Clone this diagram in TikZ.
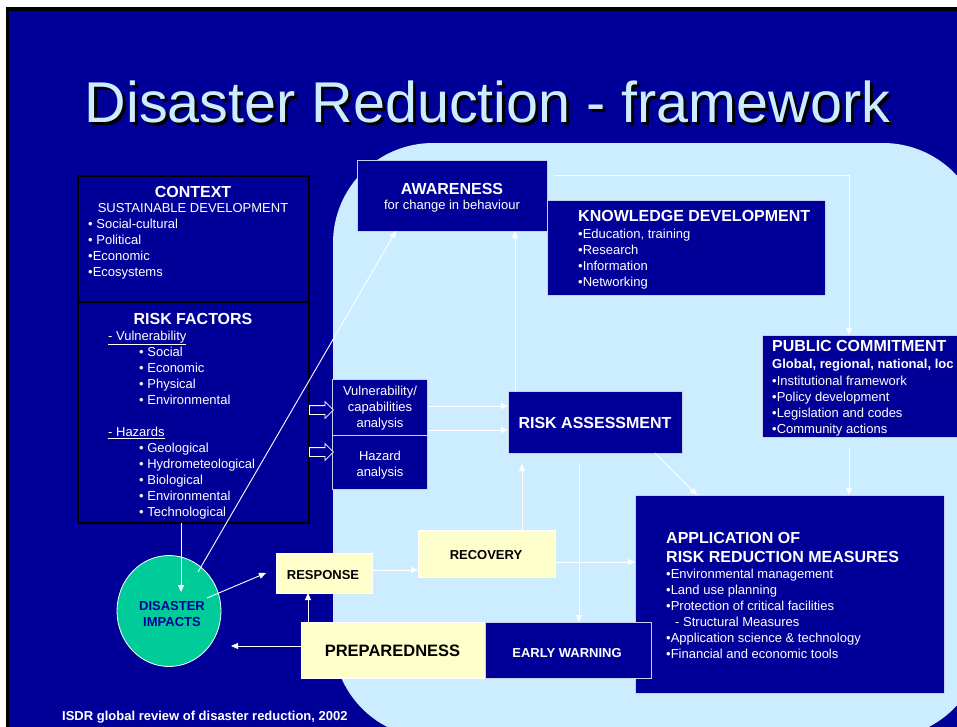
\documentclass[tikz,border=0pt]{standalone}
\usepackage{fontspec}
\setmainfont{Liberation Sans}
\usetikzlibrary{shapes.geometric,shapes.arrows,arrows.meta,calc}
\definecolor{bgblue}{HTML}{000099}
\definecolor{lightbg}{HTML}{CCECFF}
\definecolor{paleyel}{HTML}{FFFFCC}
\definecolor{tealc}{HTML}{00CC99}
\definecolor{titlec}{HTML}{CCECFF}
\definecolor{edgec}{HTML}{C8D0F0}
\newcommand\mkbox[6]{\node[#1, minimum width={#5-#3}, minimum height={#6-#4}, anchor=north west] (#2) at (#3,#4) {};}
\newcommand\itemlist[5]{\foreach \t [count=\i from 0] in {#5} {\node[anchor=base west, #2] (#1-\i) at (#3, {#4+16*\i}) {\t};}}
\newcommand\shadowtext[1]{\makebox[0pt][l]{\hspace*{3pt}\raisebox{-3pt}{\color{black}#1}}{\color{titlec}#1}}
\tikzset{
  blubox/.style={draw=edgec, fill=bgblue, line width=0.8pt, inner sep=0pt, outer sep=0pt},
  blkbox/.style={draw=black, fill=bgblue, line width=1.2pt, inner sep=0pt, outer sep=0pt},
  yelbox/.style={draw=white, fill=paleyel, line width=0.8pt, inner sep=0pt, outer sep=0pt},
  conn/.style={draw=white, line width=0.9pt, -{Triangle[length=7pt,width=6pt]}},
  hd/.style={font=\fontsize{16}{19}\selectfont\bfseries, text=white, inner sep=0pt},
  tx/.style={font=\fontsize{13}{16}\selectfont, text=white, inner sep=0pt},
  bx/.style={font=\fontsize{13}{16}\selectfont\bfseries, text=white, inner sep=0pt},
  dk/.style={font=\fontsize{13}{16}\selectfont\bfseries, text=black, inner sep=0pt},
  harrow/.style={single arrow, draw=white, fill=bgblue, line width=0.8pt, inner sep=4pt,
    single arrow head extend=4pt, minimum height=24pt, anchor=tail},
}
\begin{document}
\begin{tikzpicture}[x=1pt,y=-1pt]
\useasboundingbox (0,0) rectangle (957,726);
\fill[white] (0,0) rectangle (957,726);
\fill[black] (6,7.3) rectangle (970,740);
\fill[bgblue] (9,10.7) rectangle (970,740);
\fill[lightbg, rounded corners=100pt] (333,143) rectangle (983,738);

% title (with drop shadow in the same node)
\node[font=\fontsize{57.5}{60}\selectfont, inner sep=0pt, anchor=base] (title) at (487.5,122) {\shadowtext{Disaster Reduction - framework}};

% boxes
\mkbox{blkbox}{ctx}{78}{176}{309}{302}
\mkbox{blkbox}{rf}{78}{302}{309}{523}
\mkbox{blubox}{aw}{357}{160}{547}{231}
\mkbox{blubox}{kd}{547}{200}{825}{295}
\mkbox{blubox}{pc}{762}{335}{970}{437}
\mkbox{blubox}{vu}{332}{379}{427}{435}
\mkbox{blubox}{hz}{332}{435}{427}{489}
\mkbox{blubox}{ra}{508}{391}{682}{453}
\mkbox{blubox}{app}{635}{495}{944}{693}
\mkbox{yelbox}{rec}{418}{530}{555}{577}
\mkbox{yelbox}{resp}{276}{553}{372}{593}
\mkbox{yelbox}{prep}{301}{622}{485}{678}
\mkbox{blubox}{ew}{485}{622}{651}{678}
\node[ellipse, draw=white, fill=tealc, line width=0.8pt, minimum width=104pt, minimum height=111pt, inner sep=0pt] (di) at (169,611) {};

\node[harrow] (h1) at ($(rf.north east)+(0,108)$) {};
\node[harrow] (h2) at ($(rf.north east)+(0,150)$) {};

% texts
\node[hd, anchor=base] (t-ctx) at (193,197) {CONTEXT};
\node[tx, anchor=base] (t-sd) at (193,212.5) {SUSTAINABLE DEVELOPMENT};
\itemlist{lc}{tx}{88}{228.5}{{• Social-cultural},{• Political},{•Economic},{•Ecosystems}}
\node[hd, anchor=base] (t-rf) at (193,324) {RISK FACTORS};
\node[tx, anchor=base west] (t-vul) at (108,340.5) {\underline{- Vulnerability}};
\itemlist{lv}{tx}{139}{356.5}{{• Social},{• Economic},{• Physical},{• Environmental}}
\node[tx, anchor=base west] (t-haz) at (108,436.5) {\underline{- Hazards}};
\itemlist{lh}{tx}{139}{452.5}{{• Geological},{• Hydrometeological},{• Biological},{• Environmental},{• Technological}}

\node[hd, anchor=base] (t-aw) at (452,194) {AWARENESS};
\node[tx, anchor=base] (t-aw2) at (452,209.5) {for change in behaviour};

\node[hd, anchor=base west] (t-kd) at (578,221) {KNOWLEDGE DEVELOPMENT};
\itemlist{lk}{tx}{578}{238}{{•Education, training},{•Research},{•Information},{•Networking}}

\node[hd, anchor=base west] (t-pc) at (772,351.5) {PUBLIC COMMITMENT};
\node[bx, anchor=base west] (t-pc2) at (772,368.5) {Global, regional, national, loc};
\itemlist{lp}{tx}{772}{385}{{•Institutional framework},{•Policy development},{•Legislation and codes},{•Community actions}}

\itemlist{lu}{tx, anchor=base}{380}{395.5}{{Vulnerability/},{capabilities},{analysis}}
\itemlist{lz}{tx, anchor=base}{380}{460.5}{{Hazard},{analysis}}

\node[hd, anchor=base] (t-ra) at (595,428) {RISK ASSESSMENT};

\node[hd, anchor=base west] (t-app) at (666,543) {APPLICATION OF};
\node[hd, anchor=base west] (t-app2) at (666,562) {RISK REDUCTION MEASURES};
\itemlist{la}{tx}{666}{578.5}{{•Environmental management},{•Land use planning},{•Protection of critical facilities},{\hspace*{9pt}- Structural Measures},{•Application science \& technology},{•Financial and economic tools}}

\node[dk, anchor=base] (t-rec) at (486,559) {RECOVERY};
\node[dk, anchor=base] (t-resp) at (323,579) {RESPONSE};
\node[dk, font=\fontsize{16.5}{19}\selectfont\bfseries, anchor=base] (t-prep) at (392.5,656.5) {PREPAREDNESS};
\node[bx, anchor=base] (t-ew) at (567,657) {EARLY WARNING};
\node[bx, text=bgblue, anchor=base] (t-di1) at (172,610) {DISASTER};
\node[bx, text=bgblue, anchor=base] (t-di2) at (172,626.5) {IMPACTS};

\node[bx, anchor=base west] (t-foot) at (62,720.5) {ISDR global review of disaster reduction, 2002};

% connectors
\coordinate (c1s) at ($(aw.north east)+(8,15)$);
\coordinate (c1e) at ($(pc.north west)+(87,0)$);
\draw[conn] (c1s) -| (c1e);
\coordinate (c2s) at ($(pc.south west)+(87,11)$);
\draw[conn] (c2s) -- (c2s |- app.north);
\coordinate (c3s) at ($(ra.north west)+(7,0)$);
\draw[conn] (c3s) -- (c3s |- aw.south);
\coordinate (c4s) at ($(di.center)+(29,-39)$);
\coordinate (c4e) at ($(aw.south west)+(39,0)$);
\draw[conn] (c4s) -- (c4e);
\coordinate (c5a) at ($(vu.north east)+(1,27)$);
\draw[conn] (c5a) -- (c5a -| ra.west);
\coordinate (c5b) at ($(vu.north east)+(1,51)$);
\draw[conn] (c5b) -- (c5b -| ra.west);
\coordinate (c6s) at ($(rec.north west)+(104,0)$);
\coordinate (c6e) at ($(ra.south west)+(14,11)$);
\draw[conn] (c6s) -- (c6e);
\coordinate (c7s) at ($(ra.south west)+(71,10)$);
\draw[conn] (c7s) -- (c7s |- ew.north);
\coordinate (c8s) at ($(ra.south west)+(147,0)$);
\coordinate (c8e) at ($(app.north west)+(62,0)$);
\draw[conn] (c8s) -- (c8e);
\coordinate (c9s) at ($(rec.north east)+(0,32)$);
\draw[conn] (c9s) -- (c9s -| app.west);
\coordinate (c10s) at ($(resp.north east)+(0,17)$);
\draw[conn] (c10s) -- (c10s -| rec.west);
\coordinate (c11s) at ($(di.center)+(38,-13)$);
\coordinate (c11e) at ($(resp.north west)+(-10,20)$);
\draw[conn] (c11s) -- (c11e);
\coordinate (c12s) at ($(prep.north west)+(7,0)$);
\draw[conn] (c12s) -- (c12s |- resp.south);
\coordinate (c13s) at ($(prep.north west)+(0,24)$);
\coordinate (c13e) at ($(di.center)+(62,35)$);
\draw[conn] (c13s) -- (c13e);
\coordinate (c14s) at ($(rf.south west)+(103,0)$);
\coordinate (c14e) at ($(di.north)+(12,37)$);
\draw[conn] (c14s) -- (c14e);
\end{tikzpicture}
\end{document}
